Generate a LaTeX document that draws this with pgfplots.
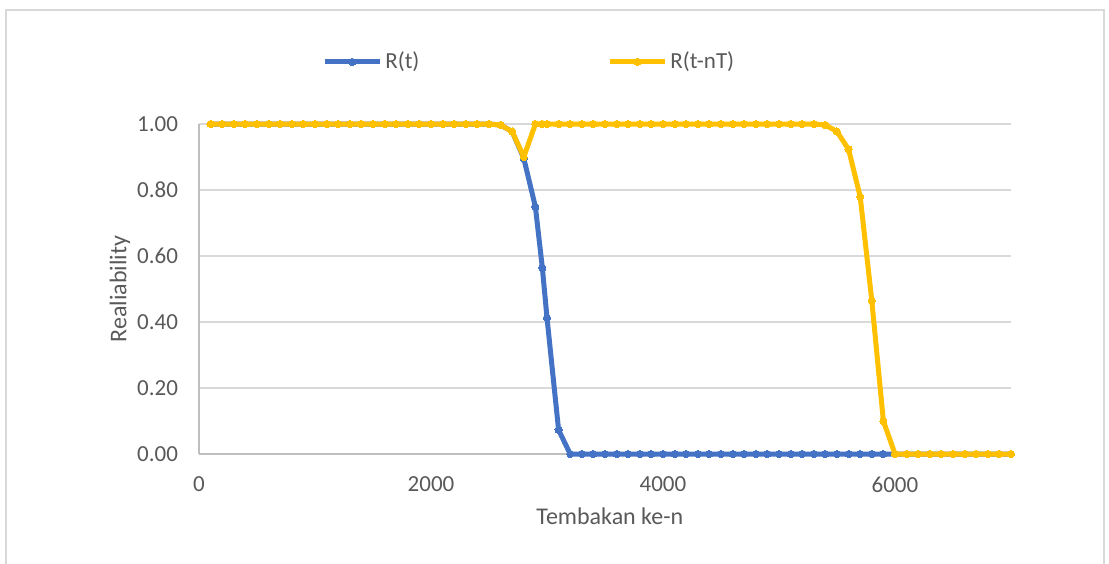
\documentclass[border=0pt]{standalone}
\usepackage{pgfplots}
\pgfplotsset{compat=1.18}
\usepackage{pgfplotstable}
\usepackage{fontspec}
\setmainfont{Carlito}
\definecolor{xlblue}{HTML}{4472C4}
\definecolor{xlgold}{HTML}{FFC000}
\definecolor{txtgray}{HTML}{595959}
\definecolor{gridgray}{HTML}{D9D9D9}
\definecolor{axisgray}{HTML}{BFBFBF}

% t = tembakan ke-n, r = R(t), rn = R(t-nT)
\pgfplotstableread{
t r rn
100 1 1
200 1 1
300 1 1
400 1 1
500 1 1
600 1 1
700 1 1
800 1 1
900 1 1
1000 1 1
1100 1 1
1200 1 1
1300 1 1
1400 1 1
1500 1 1
1600 1 1
1700 1 1
1800 1 1
1900 1 1
2000 1 1
2100 1 1
2200 1 1
2300 1 1
2400 1 1
2500 1 1
2600 0.997 0.997
2700 0.977 0.977
2800 0.896 0.900
2900 0.749 1
2960 0.564 1
3000 0.413 1
3100 0.073 1
3200 0 1
3300 0 1
3400 0 1
3500 0 1
3600 0 1
3700 0 1
3800 0 1
3900 0 1
4000 0 1
4100 0 1
4200 0 1
4300 0 1
4400 0 1
4500 0 1
4600 0 1
4700 0 1
4800 0 1
4900 0 1
5000 0 1
5100 0 1
5200 0 1
5300 0 1
5400 0 0.997
5500 0 0.977
5600 0 0.923
5700 0 0.780
5800 0 0.465
5900 0 0.100
6000 0 0
6100 0 0
6200 0 0
6300 0 0
6400 0 0
6500 0 0
6600 0 0
6700 0 0
6800 0 0
6900 0 0
7000 0 0
}\reltab

\begin{document}
\begin{tikzpicture}
\useasboundingbox (-99.5pt,-54.5pt) rectangle (455pt,227pt);
\draw[gridgray, line width=0.75pt] (-96.5pt,-60pt) -- (-96.5pt,222pt) -- (452.5pt,222pt) -- (452.5pt,-60pt);
\begin{axis}[
  at={(0,0)}, anchor=south west,
  width=406pt, height=165pt, scale only axis,
  xmin=0, xmax=7000, ymin=0, ymax=1,
  xtick={0,2000,4000,6000},
  ytick={0,0.2,0.4,0.6,0.8,1},
  ymajorgrids,
  grid style={gridgray, line width=0.75pt},
  axis lines*=left,
  axis line style={axisgray, line width=0.75pt, -},
  tick style={draw=none},
  /pgf/number format/assume math mode=true,
  ticklabel style={font=\fontsize{11.5}{13}\selectfont, text=txtgray},
  yticklabel style={/pgf/number format/.cd, fixed, fixed zerofill, precision=2, /tikz/.cd, xshift=-7pt},
  xticklabel style={/pgf/number format/set thousands separator={}, yshift=-8pt},
  xlabel={Tembakan ke-n},
  ylabel={Realiability},
  label style={font=\fontsize{12}{14}\selectfont, text=txtgray},
  xlabel style={at={(axis description cs:0.506,-0.188)}, anchor=center},
  ylabel style={at={(axis description cs:-0.0973,0.5)}, anchor=center},
  clip=false,
  legend columns=2,
  legend style={at={(axis description cs:0.144,1.188)}, anchor=west, draw=none, fill=none,
    font=\fontsize{11.5}{13}\selectfont, text=txtgray, nodes={inner xsep=1.5pt},
    /tikz/every even column/.append style={column sep=92.5pt}},
  legend image code/.code={\draw[mark repeat=2, mark phase=2, #1] plot coordinates {(0pt,0pt) (13.75pt,0pt) (27.5pt,0pt)};},
  every axis plot/.append style={line width=2.5pt, line join=round, mark=*, mark size=1.8pt},
]
\addplot[xlblue, mark options={fill=xlblue, draw=xlblue, line width=0pt}] table[x=t, y=r] {\reltab};
\addplot[xlgold, mark options={fill=xlgold, draw=xlgold, line width=0pt}] table[x=t, y=rn] {\reltab};
\legend{R(t), R(t-nT)}
\end{axis}
\end{tikzpicture}
\end{document}
